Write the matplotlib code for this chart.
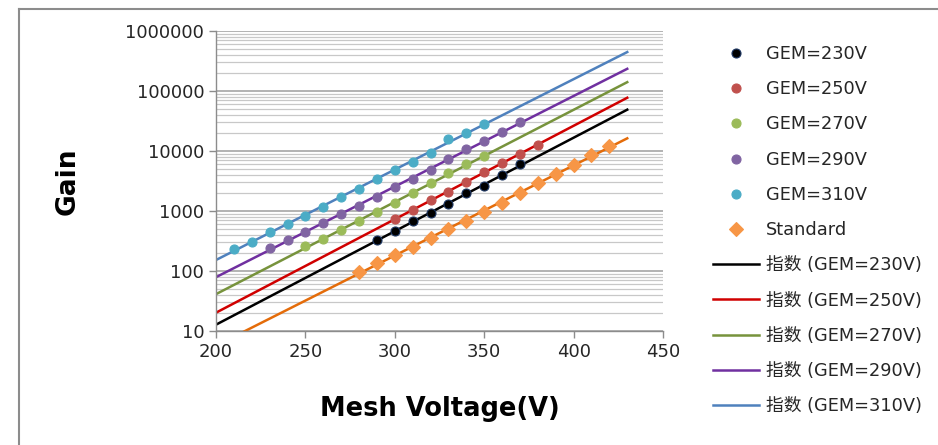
import numpy as np
import matplotlib.pyplot as plt
from matplotlib.lines import Line2D
from matplotlib.ticker import LogLocator, NullFormatter

plt.rcParams['font.family'] = ['DejaVu Sans', 'Noto Sans CJK SC']

# 测量数据 (Mesh 电压 / 增益)
v_230 = [290, 300, 310, 320, 330, 340, 350, 360, 370]
g_230 = [329, 464, 673, 914, 1308, 1969, 2643, 3930, 5997]

v_250 = [300, 310, 320, 330, 340, 350, 360, 370, 380]
g_250 = [726, 1039, 1506, 2100, 3083, 4525, 6225, 8910, 12760]

v_270 = [250, 260, 270, 280, 290, 300, 310, 320, 330, 340, 350]
g_270 = [261, 341, 482, 673, 950, 1377, 1969, 2891, 4245, 5997, 8254]

v_290 = [230, 240, 250, 260, 270, 280, 290, 300, 310, 320, 330, 340, 350, 360, 370]
g_290 = [245, 329, 441, 623, 891, 1227, 1733, 2478, 3459, 4820, 7265,
         10800, 14680, 21000, 30400]

v_310 = [210, 220, 230, 240, 250, 260, 270, 280, 290, 300, 310, 320, 330, 340, 350]
g_310 = [236, 308, 447, 607, 826, 1151, 1690, 2357, 3372, 4820, 6640,
         9380, 16060, 20200, 27800]

v_std = [280, 290, 300, 310, 320, 330, 340, 350, 360, 370, 380, 390, 400, 410, 420]
g_std = [97.5, 134, 185, 254, 350, 495, 690, 962, 1377, 1969, 2891,
         4083, 5843, 8580, 12110]

# 趋势线范围 (Excel 指数趋势线的延伸)
trend_range = [200, 430]

series = [
    ('GEM=230V', v_230, g_230, 'o', '#000000', '#1f3864', '#000000', '指数 (GEM=230V)'),
    ('GEM=250V', v_250, g_250, 'o', '#C0504D', '#C0504D', '#D00000', '指数 (GEM=250V)'),
    ('GEM=270V', v_270, g_270, 'o', '#9BBB59', '#9BBB59', '#77933C', '指数 (GEM=270V)'),
    ('GEM=290V', v_290, g_290, 'o', '#8064A2', '#8064A2', '#7030A0', '指数 (GEM=290V)'),
    ('GEM=310V', v_310, g_310, 'o', '#4BACC6', '#4BACC6', '#4F81BD', '指数 (GEM=310V)'),
    ('Standard', v_std, g_std, 'D', '#F79646', '#F79646', '#E46C0A', None),
]

fig = plt.figure(figsize=(9.38, 4.45), dpi=100)
ax = fig.add_axes([216 / 938, 1 - 331 / 445, (663 - 216) / 938, (331 - 31) / 445])

# 外框 (只露出上边和左边)
fx, fy = 19 / 938, 1 - 8.5 / 445
fig.lines.append(Line2D([fx, 1.0], [fy, fy], transform=fig.transFigure,
                        color='#8c8c8c', linewidth=1.5))
fig.lines.append(Line2D([fx, fx], [0.0, fy], transform=fig.transFigure,
                        color='#8c8c8c', linewidth=1.5))

ax.set_yscale('log')
ax.set_xlim(200, 450)
ax.set_ylim(10, 1e6)

point_handles = []
line_handles = []
t = np.linspace(trend_range[0], trend_range[1], 200)
for name, v, g, mk, fc, ec, lc, lname in series:
    ms = 7.5 if mk == 'D' else 6.5
    h, = ax.plot(v, g, linestyle='none', marker=mk, markersize=ms,
                 markerfacecolor=fc, markeredgecolor=ec, markeredgewidth=0.8,
                 label=name, zorder=3)
    point_handles.append(h)
    # 指数拟合: ln(G) = b*V + ln(a)
    b, c = np.polyfit(v, np.log(g), 1)
    lh, = ax.plot(t, np.exp(c + b * t), color=lc, linewidth=1.8, zorder=2,
                  label=lname if lname else '_nolegend_')
    if lname:
        line_handles.append(lh)

# 网格
ax.yaxis.set_minor_locator(LogLocator(base=10, subs=np.arange(2, 10), numticks=10))
ax.yaxis.set_minor_formatter(NullFormatter())
ax.set_yticks([10, 100, 1000, 10000, 100000, 1000000])
ax.set_yticklabels(['10', '100', '1000', '10000', '100000', '1000000'])
ax.grid(True, which='major', axis='y', color='#a6a6a6', linewidth=1.2)
ax.grid(True, which='minor', axis='y', color='#c8c8c8', linewidth=0.9)
ax.set_axisbelow(True)

ax.set_xticks([200, 250, 300, 350, 400, 450])
ax.tick_params(axis='both', which='major', labelsize=13, color='#8c8c8c',
               length=5, width=1, labelcolor='#262626')
ax.tick_params(axis='y', which='minor', length=0)
for s in ['top', 'right']:
    ax.spines[s].set_visible(False)
for s in ['left', 'bottom']:
    ax.spines[s].set_color('#8c8c8c')
    ax.spines[s].set_linewidth(1)

ax.set_xlabel('Mesh Voltage(V)', fontsize=18.5, fontweight='bold', labelpad=25)
ax.set_ylabel('Gain', fontsize=19, fontweight='bold', labelpad=32)

fig.legend(handles=point_handles + line_handles,
           labels=[h.get_label() for h in point_handles + line_handles],
           loc='upper left', bbox_to_anchor=(713 / 938, 1 - 45 / 445),
           frameon=False, fontsize=12.8, handlelength=2.6, handletextpad=0.4,
           labelspacing=0.97, borderpad=0, borderaxespad=0, numpoints=1,
           labelcolor='#262626')

fig.savefig('out.png', dpi=100)
